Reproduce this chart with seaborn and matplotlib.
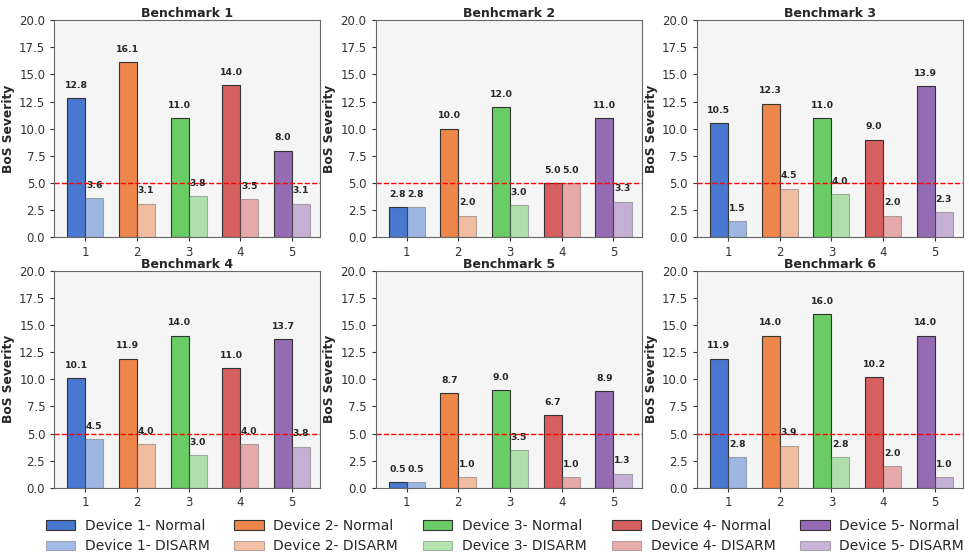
import pandas as pd
import matplotlib.pyplot as plt
import seaborn as sns
from matplotlib.patches import Patch

# Chart data
DEVICES = ["1", "2", "3", "4", "5"]
TITLES = ["Benchmark 1", "Benhcmark 2", "Benchmark 3",
          "Benchmark 4", "Benchmark 5", "Benchmark 6"]

NORMAL = [
    [12.8, 16.1, 11.0, 14.0, 8.0],
    [2.8, 10.0, 12.0, 5.0, 11.0],
    [10.5, 12.3, 11.0, 9.0, 13.9],
    [10.1, 11.9, 14.0, 11.0, 13.7],
    [0.5, 8.7, 9.0, 6.7, 8.9],
    [11.9, 14.0, 16.0, 10.2, 14.0],
]
DISARM = [
    [3.6, 3.1, 3.8, 3.5, 3.1],
    [2.8, 2.0, 3.0, 5.0, 3.3],
    [1.5, 4.5, 4.0, 2.0, 2.3],
    [4.5, 4.0, 3.0, 4.0, 3.8],
    [0.5, 1.0, 3.5, 1.0, 1.3],
    [2.8, 3.9, 2.8, 2.0, 1.0],
]
THRESHOLD = 5.0

sns.set_style("ticks")
plt.rcParams['font.family'] = ['DejaVu Sans']
COLORS = sns.color_palette("muted", 5)


def build_frame(normal, disarm):
    rows = []
    for d, n, s in zip(DEVICES, normal, disarm):
        rows.append({"device": d, "mode": "Normal", "value": n})
        rows.append({"device": d, "mode": "DISARM", "value": s})
    return pd.DataFrame(rows)


def draw_panel(ax, title, normal, disarm):
    df = build_frame(normal, disarm)
    sns.barplot(data=df, x="device", y="value", hue="mode",
                hue_order=["Normal", "DISARM"], order=DEVICES,
                width=0.7, ax=ax, legend=False, errorbar=None)
    bars = ax.patches
    n = len(DEVICES)
    for i, bar in enumerate(bars[:n]):
        bar.set_facecolor(COLORS[i])
        bar.set_edgecolor("#333333")
        bar.set_linewidth(0.8)
    for i, bar in enumerate(bars[n:2 * n]):
        bar.set_facecolor((*COLORS[i], 0.5))
        bar.set_edgecolor((0.3, 0.3, 0.3, 0.4))
        bar.set_linewidth(0.8)
    for bar in bars[:2 * n]:
        h = bar.get_height()
        ax.annotate(f"{h:.1f}", (bar.get_x() + bar.get_width() / 2, h),
                    xytext=(0, 6), textcoords="offset points",
                    ha="center", va="bottom", fontsize=6.7,
                    fontweight="bold", color="#262626")
    ax.axhline(THRESHOLD, color="red", linestyle="--", linewidth=1.0)
    ax.set_facecolor("#f5f5f5")
    ax.set_ylim(0, 20)
    ax.set_yticks([0, 2.5, 5, 7.5, 10, 12.5, 15, 17.5, 20])
    ax.set_xlim(-0.6, 4.55)
    ax.set_title(title, fontsize=9, fontweight="bold", pad=2, color="#262626")
    ax.set_xlabel("")
    ax.set_ylabel("BoS Severity", fontsize=8.8, fontweight="bold", color="#262626",
                  labelpad=3)
    ax.tick_params(labelsize=8.5, colors="#333333", length=3)
    ax.tick_params(axis="x", pad=3)
    for sp in ax.spines.values():
        sp.set_color("#666666")
        sp.set_linewidth(0.8)


if __name__ == "__main__":
    fig, axes = plt.subplots(2, 3, figsize=(9.69, 5.57), dpi=100)
    for ax, title, nv, dv in zip(axes.flat, TITLES, NORMAL, DISARM):
        draw_panel(ax, title, nv, dv)

    fig.subplots_adjust(left=0.056, right=0.994, top=0.964, bottom=0.124,
                        wspace=0.207, hspace=0.152)

    handles, labels = [], []
    for i, d in enumerate(DEVICES):
        handles.append(Patch(facecolor=COLORS[i], edgecolor="#333333", linewidth=0.8))
        labels.append(f"Device {d}- Normal")
        handles.append(Patch(facecolor=(*COLORS[i], 0.5), edgecolor=(0.3, 0.3, 0.3, 0.4),
                             linewidth=0.8))
        labels.append(f"Device {d}- DISARM")
    fig.legend(handles, labels, loc="lower center", ncol=5, frameon=False,
               fontsize=10, bbox_to_anchor=(0.521, -0.011), handlelength=2.1,
               columnspacing=1.8, handletextpad=0.7, labelspacing=0.45,
               borderaxespad=0.3)

    fig.savefig("out.png", dpi=100)
